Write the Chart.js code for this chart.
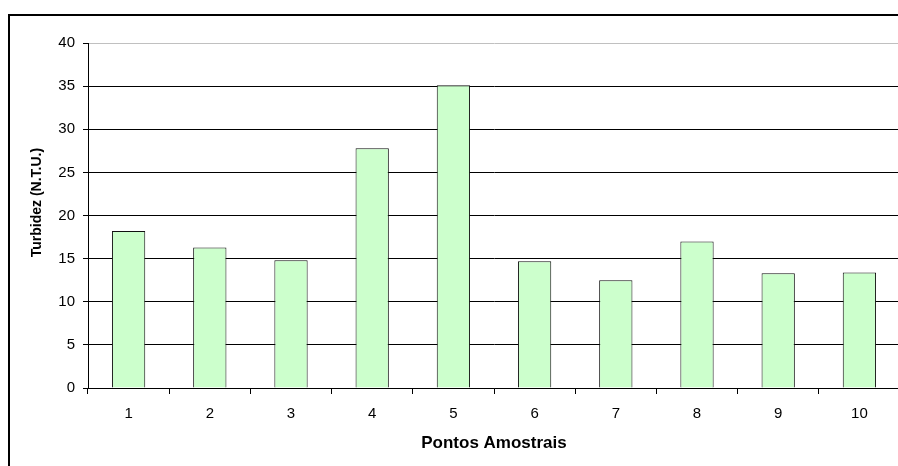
<!DOCTYPE html>
<html>
<head>
<meta charset="utf-8">
<script src="https://cdn.jsdelivr.net/npm/chart.js@4"></script>
<style>
  html, body { margin: 0; padding: 0; background: #fff; overflow: hidden; width: 898px; height: 466px; }
  #frame { position: absolute; left: 8px; top: 14px; width: 1000px; height: 1000px;
           border-left: 2px solid #000; border-top: 2px solid #000; box-sizing: border-box; }
  #c { position: absolute; left: 0; top: 0; }
</style>
</head>
<body>
<div id="frame"></div>
<canvas id="c" width="900" height="466"></canvas>
<script>
// Sampling points and measured turbidity
const categories = ['1', '2', '3', '4', '5', '6', '7', '8', '9', '10'];
const turbidity = [18.2, 16.3, 14.8, 27.8, 35.1, 14.7, 12.5, 17.0, 13.3, 13.4];
const yMin = 0;
const yMax = 40;
const yStep = 5;
const xTitle = 'Pontos Amostrais';
const yTitle = 'Turbidez (N.T.U.)';

const FONT = '"Liberation Sans", Arial, sans-serif';

// Vertical axis title, placed beside the tick labels
const yTitlePlugin = {
  id: 'yTitle',
  afterDraw(chart) {
    const ctx = chart.ctx;
    const y = chart.scales.y;
    ctx.save();
    ctx.translate(y.left + 37, y.getPixelForValue(21.5));
    ctx.rotate(-Math.PI / 2);
    ctx.font = 'bold 14px ' + FONT;
    ctx.fillStyle = '#000';
    ctx.textAlign = 'center';
    ctx.textBaseline = 'middle';
    ctx.fillText(yTitle, 0, 0);
    ctx.restore();
  }
};

new Chart(document.getElementById('c'), {
  type: 'bar',
  data: {
    labels: categories,
    datasets: [{
      data: turbidity,
      backgroundColor: '#ccffcc',
      borderColor: '#111',
      borderWidth: 1,
      barPercentage: 0.41,
      categoryPercentage: 1
    }]
  },
  options: {
    responsive: false,
    animation: false,
    devicePixelRatio: 1,
    layout: { padding: { top: 43, left: 0, right: 0, bottom: 0 } },
    plugins: { legend: { display: false }, tooltip: { enabled: false } },
    scales: {
      x: {
        offset: true,
        grid: { offset: true, drawOnChartArea: false, drawTicks: true, tickLength: 6, color: '#000' },
        border: { color: '#000', width: 1 },
        ticks: { color: '#000', font: { family: FONT, size: 15 }, padding: 11, maxRotation: 0 },
        title: { display: true, text: xTitle, color: '#000',
                 font: { family: FONT, size: 17, weight: 'bold' }, padding: { top: 0, bottom: 12 } },
        afterFit(s) { s.height = 78; }
      },
      y: {
        min: yMin,
        max: yMax,
        ticks: { stepSize: yStep, color: '#000', font: { family: FONT, size: 15 }, padding: 8 },
        grid: {
          color: (c) => (c.tick && c.tick.value === yMax ? '#c0c0c0' : '#000'),
          tickColor: '#000',
          tickLength: 5
        },
        border: { color: '#000', width: 1 },
        afterFit(s) { s.width = 88; }
      }
    }
  },
  plugins: [yTitlePlugin]
});
</script>
</body>
</html>
